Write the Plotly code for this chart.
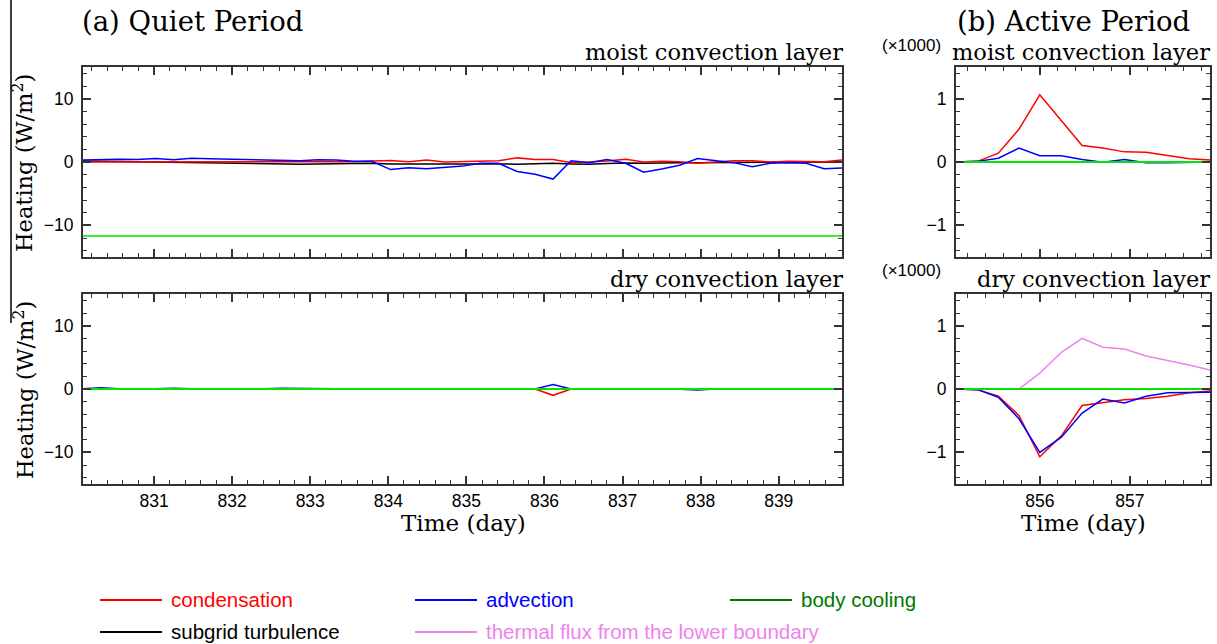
import plotly.graph_objects as go

W, H = 1217, 644

# ---------------- data ----------------
times_quiet = [830.09, 830.32, 830.55, 830.78, 831.02, 831.25, 831.48, 831.71, 831.94, 832.17,
               832.41, 832.64, 832.87, 833.10, 833.33, 833.56, 833.79, 834.03, 834.26, 834.49,
               834.72, 834.95, 835.18, 835.41, 835.65, 835.88, 836.11, 836.34, 836.57, 836.80,
               837.04, 837.27, 837.50, 837.73, 837.96, 838.19, 838.42, 838.66, 838.89, 839.12,
               839.35, 839.58, 839.81]

# quiet period, moist convection layer (W/m2)
cond_moist_quiet = [0.0, 0.0, 0.0, 0.05, 0.05, 0.0, 0.05, 0.0, 0.0, 0.05,
                    0.0, 0.0, 0.05, 0.0, 0.0, 0.05, 0.15, 0.25, 0.05, 0.3,
                    0.0, 0.05, 0.1, 0.2, 0.65, 0.4, 0.4, -0.1, 0.0, 0.15,
                    0.45, 0.0, 0.1, 0.05, -0.2, 0.05, 0.2, 0.2, 0.0, 0.1,
                    0.05, 0.05, 0.3]
adv_moist_quiet = [0.3, 0.4, 0.45, 0.4, 0.55, 0.35, 0.6, 0.5, 0.45, 0.4,
                   0.35, 0.3, 0.2, 0.35, 0.3, 0.1, 0.1, -1.2, -0.9, -1.05,
                   -0.85, -0.65, -0.2, -0.2, -1.5, -1.95, -2.7, 0.2, -0.1, 0.4,
                   -0.2, -1.6, -1.1, -0.5, 0.55, 0.2, -0.1, -0.75, -0.2, -0.1,
                   -0.2, -1.05, -0.95]
cool_moist_quiet = [-11.7] * 43
turb_moist_quiet = [0.15, 0.1, 0.05, 0.0, 0.0, -0.05, -0.1, -0.1, -0.2, -0.3,
                    -0.35, -0.4, -0.35, -0.3, -0.25, -0.2, -0.2, -0.3, -0.35, -0.3,
                    -0.3, -0.3, -0.2, -0.3, -0.35, -0.3, -0.2, -0.3, -0.35, -0.25,
                    -0.15, -0.2, -0.1, -0.1, -0.1, -0.1, -0.05, -0.1, -0.1, -0.05,
                    -0.05, 0.0, 0.0]

# quiet period, dry convection layer (W/m2)
cond_dry_quiet = [0.0, 0.0, 0.0, 0.0, 0.0, 0.0, 0.0, 0.0, 0.0, 0.0,
                  0.0, 0.0, 0.0, 0.0, 0.0, 0.0, 0.0, 0.0, 0.0, 0.0,
                  0.0, 0.0, 0.0, 0.0, 0.0, 0.0, -1.0, 0.0, 0.0, 0.0,
                  0.0, 0.0, -0.1, -0.1, 0.0, 0.0, 0.0, 0.0, 0.0, 0.0,
                  0.0, 0.0, 0.0]
adv_dry_quiet = [0.05, 0.2, 0.05, 0.0, 0.05, 0.1, 0.0, -0.05, 0.05, 0.0,
                 0.05, 0.1, 0.05, 0.0, 0.05, 0.05, 0.05, 0.05, 0.0, 0.0,
                 0.0, 0.0, 0.0, 0.0, 0.05, 0.0, 0.7, 0.0, 0.05, 0.05,
                 0.05, 0.1, 0.0, -0.05, -0.15, 0.0, 0.05, 0.0, 0.05, 0.0,
                 0.0, 0.0, 0.05]
cool_dry_quiet = [0.0] * 43
turb_dry_quiet = [0.0] * 43
flux_dry_quiet = [0.0] * 43

times_active = [855.07, 855.31, 855.54, 855.77, 856.00, 856.24, 856.47, 856.70, 856.94,
                857.18, 857.42, 857.66, 857.89]

# active period (x1000 W/m2)
cond_moist_active = [0.0, 0.01, 0.14, 0.52, 1.06, 0.66, 0.26, 0.22, 0.16, 0.155, 0.10, 0.05, 0.03]
adv_moist_active = [0.0, 0.01, 0.06, 0.22, 0.10, 0.10, 0.04, -0.005, 0.04, -0.01, -0.01, 0.0, 0.0]
cool_moist_active = [0.0] * 13
turb_moist_active = [0.0] * 13

cond_dry_active = [0.0, -0.01, -0.115, -0.42, -1.07, -0.74, -0.26, -0.22, -0.17, -0.15, -0.115, -0.06, -0.03]
adv_dry_active = [0.0, -0.01, -0.13, -0.47, -1.0, -0.76, -0.38, -0.16, -0.22, -0.115, -0.06, -0.05, -0.05]
flux_dry_active = [0.0, 0.0, 0.0, 0.0, 0.25, 0.58, 0.80, 0.66, 0.63, 0.52, 0.45, 0.38, 0.30]
cool_dry_active = [0.0] * 13
turb_dry_active = [0.0] * 13

series_names = ["condensation", "advection", "body cooling", "subgrid turbulence",
                "thermal flux from the lower boundary"]

# ---------------- styles ----------------
RED = "rgb(255,0,0)"
BLUE = "rgb(0,0,255)"
LIME = "rgb(0,230,0)"
DKGREEN = "rgb(0,120,0)"
BLACK = "rgb(0,0,0)"
VIOLET = "rgb(238,130,238)"
SERIF = "DejaVu Serif"
SANS = "Liberation Sans"
FRAME = "#333333"


def px(x):
    return x / W


def py(y):
    return 1 - y / H


fig = go.Figure()


def add(x, y, color, ax, width=1.5):
    fig.add_trace(go.Scatter(x=x, y=y, mode="lines", line=dict(color=color, width=width),
                             xaxis="x" + ax, yaxis="y" + ax, showlegend=False,
                             hoverinfo="skip"))


# panel 1: quiet moist
add(times_quiet, turb_moist_quiet, BLACK, "")
add(times_quiet, cond_moist_quiet, RED, "")
add(times_quiet, adv_moist_quiet, BLUE, "")
add(times_quiet, cool_moist_quiet, LIME, "")
# panel 2: active moist
add(times_active, turb_moist_active, BLACK, "2")
add(times_active, cond_moist_active, RED, "2")
add(times_active, adv_moist_active, BLUE, "2")
add(times_active, cool_moist_active, LIME, "2", 2)
# panel 3: quiet dry
add(times_quiet, turb_dry_quiet, BLACK, "3")
add(times_quiet, flux_dry_quiet, VIOLET, "3")
add(times_quiet, cond_dry_quiet, RED, "3")
add(times_quiet, adv_dry_quiet, BLUE, "3")
add(times_quiet, cool_dry_quiet, LIME, "3", 2)
# panel 4: active dry
add(times_active, turb_dry_active, BLACK, "4", 2)
add(times_active, flux_dry_active, VIOLET, "4")
add(times_active, cond_dry_active, RED, "4")
add(times_active, adv_dry_active, BLUE, "4")
add(times_active, cool_dry_active, LIME, "4", 2)

dom_left = [px(83), px(842)]
dom_right = [px(956), px(1210)]
dom_top = [py(257), py(67)]
dom_bot = [py(484), py(294)]

common = dict(showline=True, linecolor=FRAME, linewidth=2, mirror="allticks",
              ticks="inside", ticklen=8, tickwidth=1.5, tickcolor=FRAME,
              showgrid=False, zeroline=False,
              tickfont=dict(family=SANS, size=17.5, color="black"))


def xax(dom, rng, anchor, labels):
    return dict(common, domain=dom, range=rng, anchor=anchor, tickmode="linear",
                tick0=830, dtick=1, showticklabels=labels,
                minor=dict(ticks="inside", ticklen=4, tickwidth=1.2, tickcolor=FRAME,
                           dtick=0.2, tick0=830, showgrid=False))


def yax(dom, rng, anchor, dt, mdt):
    return dict(common, domain=dom, range=rng, anchor=anchor, tickmode="linear",
                tick0=0, dtick=dt, ticklabelstandoff=4,
                minor=dict(ticks="inside", ticklen=4, tickwidth=1.2, tickcolor=FRAME,
                           dtick=mdt, tick0=0, showgrid=False))


qr = [830.09, 839.81]
ar = [855.07, 857.89]
fig.update_layout(
    xaxis=xax(dom_left, qr, "y", False),
    yaxis=yax(dom_top, [-15, 15], "x", 10, 2),
    xaxis2=xax(dom_right, ar, "y2", False),
    yaxis2=yax(dom_top, [-1.5, 1.5], "x2", 1, 0.2),
    xaxis3=xax(dom_left, qr, "y3", True),
    yaxis3=yax(dom_bot, [-15, 15], "x3", 10, 2),
    xaxis4=xax(dom_right, ar, "y4", True),
    yaxis4=yax(dom_bot, [-1.5, 1.5], "x4", 1, 0.2),
)

ann = []


def text(t, x, y, size, family=SERIF, xanchor="left", color="black", angle=0):
    ann.append(dict(text=t, x=px(x), y=py(y), xref="paper", yref="paper", showarrow=False,
                    xanchor=xanchor, yanchor="middle", textangle=angle,
                    font=dict(family=family, size=size, color=color)))


text("(a) Quiet Period", 80, 21, 27.5)
text("(b) Active Period", 955, 21, 27.5)
text("moist convection layer", 845, 52, 22.5, xanchor="right")
text("moist convection layer", 1212, 52, 22.5, xanchor="right")
text("dry convection layer", 845, 279, 22.5, xanchor="right")
text("dry convection layer", 1212, 279, 22.5, xanchor="right")
text("(×1000)", 880, 46, 17, family=SANS)
text("(×1000)", 880, 271, 17, family=SANS)
text("Heating (W/m<sup>2</sup>)", 23, 163, 22.5, xanchor="center", angle=-90)
text("Heating (W/m<sup>2</sup>)", 23, 390, 22.5, xanchor="center", angle=-90)
text("Time (day)", 463, 523, 23, xanchor="center")
text("Time (day)", 1083, 523, 23, xanchor="center")

shapes = [dict(type="line", xref="paper", yref="paper", x0=px(11), x1=px(11),
               y0=py(0), y1=py(323), line=dict(color="black", width=1.5))]

# legend (keys + labels)
legend_items = [
    (series_names[0], RED, 100, 600),
    (series_names[1], BLUE, 415, 600),
    (series_names[2], DKGREEN, 730, 600),
    (series_names[3], BLACK, 100, 632),
    (series_names[4], VIOLET, 415, 632),
]
for name, col, lx, ly in legend_items:
    shapes.append(dict(type="line", xref="paper", yref="paper", x0=px(lx), x1=px(lx + 62),
                       y0=py(ly), y1=py(ly), line=dict(color=col, width=2)))
    text(name, lx + 69, ly - 1, 20.5, family=SANS, color=col)

fig.update_layout(
    width=W, height=H, margin=dict(l=0, r=0, t=0, b=0),
    paper_bgcolor="white", plot_bgcolor="white",
    showlegend=False, annotations=ann, shapes=shapes,
)

fig.write_html("out.html", config={"displayModeBar": False})
